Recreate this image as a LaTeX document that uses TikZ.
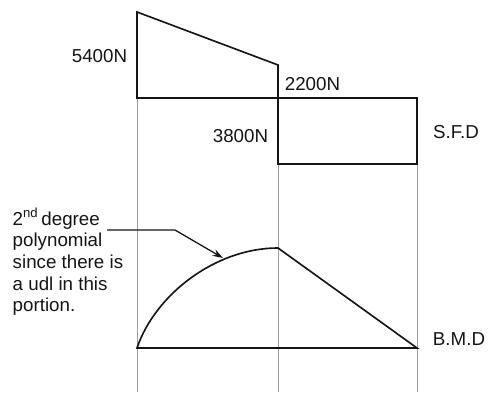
\documentclass[tikz,border=0pt]{standalone}
\usepackage{fontspec}
\setmainfont{Liberation Sans}
\usepackage{xcolor}
\usetikzlibrary{arrows.meta,positioning,calc}
\definecolor{ink}{HTML}{151515}
\definecolor{guidegray}{HTML}{9C9C9C}

\begin{document}
\begin{tikzpicture}[x=0.03cm,y=-0.03cm,font=\fontsize{16}{18.5}\selectfont,>={Stealth[length=9pt,width=6pt]}]
\tikzset{diag/.style={draw=ink,line width=1.4pt}, guide/.style={draw=guidegray,line width=0.8pt}, lbl/.style={inner sep=0pt,text=ink}}
\useasboundingbox (0,0) rectangle (488,392);
% projection lines
\draw[guide] (137,98)--(137,392);
\draw[guide] (278,164)--(278,392);
\draw[guide] (417,164)--(417,392);
% shear force diagram
\draw[diag] (137,98)--(137,12)--(278,65)--(278,164)--(417,164)--(417,98)--cycle;
\node[lbl] (sfA) at (99.5,56) {5400N};
\node[lbl] (sfB) at (312.5,84) {2200N};
\node[lbl] (sfC) at (240.5,136) {3800N};
\node[lbl] (sfd) at (456,132) {S.F.D};
% bending moment diagram
\draw[diag] (137,348) .. controls (155,295) and (215,248) .. (278,248) -- (417,348) -- cycle;
\node[lbl] (bmd) at (459,339) {B.M.D};
\node[lbl,anchor=base west,align=left] (note) at (12.5,311.8) {2\textsuperscript{nd}\,degree\\polynomial\\since there is\\a udl in this\\portion.};
\coordinate (tail) at (107,230);
\coordinate (bend) at (175,230);
\coordinate (tip) at (223,258);
\draw[diag,->,line width=1.1pt] (tail)--(bend)--(tip);
\end{tikzpicture}
\end{document}
